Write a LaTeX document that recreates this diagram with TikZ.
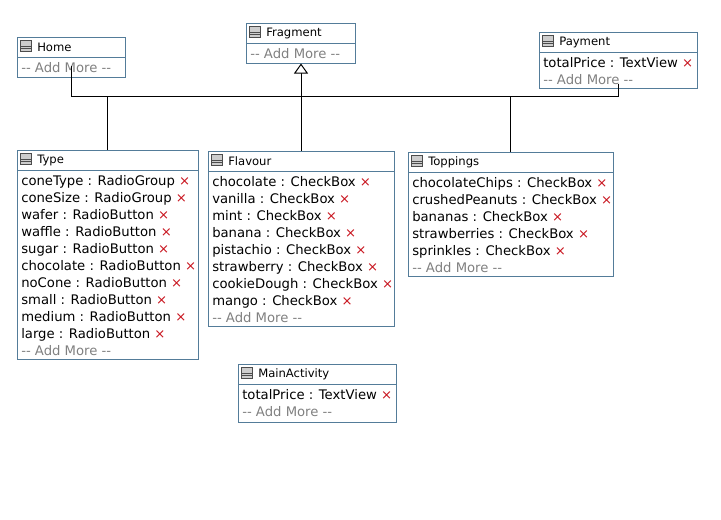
\documentclass[tikz,border=0pt]{standalone}
\usepackage{fontspec}
\setmainfont{DejaVu Sans}
\usepackage{tikz}
\usetikzlibrary{arrows.meta,fit}
\definecolor{classBorder}{RGB}{84,124,153}
\definecolor{addGray}{RGB}{128,128,128}
\definecolor{delRed}{RGB}{200,20,30}
\definecolor{iconGray}{RGB}{205,205,205}
\newcommand{\delmark}{\textcolor{delRed}{×}}
\newcommand{\addmore}{-{}- Add More -{}-}

\begin{document}
\begin{tikzpicture}[x=0.75pt, y=-0.75pt]%
  \tikzset{classbox/.style={draw=classBorder, line width=0.75pt, inner sep=0pt}}
  \tikzset{classline/.style={draw=classBorder, line width=0.75pt}}
  \tikzset{classicon/.style={draw=black!70, fill=iconGray, line width=0.5pt, minimum size=8pt, inner sep=0pt, anchor=north west,
      path picture={\draw[black!70, line width=0.5pt] ([yshift=-4.5pt]path picture bounding box.north west) -- ([yshift=-4.5pt]path picture bounding box.north east)
                                                      ([yshift=-6.3pt]path picture bounding box.north west) -- ([yshift=-6.3pt]path picture bounding box.north east);}}}
  \tikzset{classtitle/.style={anchor=west, inner sep=0pt, font=\fontsize{8.7pt}{10pt}\selectfont}}
  \tikzset{member/.style={anchor=base west, inner sep=0pt, font=\fontsize{9.9pt}{12pt}\selectfont}}
  \tikzset{addmore/.style={member, text=addGray}}
  \tikzset{link/.style={draw, line width=0.75pt}}
  \tikzset{inherit/.style={draw, line width=0.75pt, -{Triangle[open, length=7.5pt, width=10.5pt, fill=white]}}}

  \useasboundingbox (0,0) rectangle (721,519);

  % Home
  \node[classbox, fit={(17,37) (125,77)}] (home) {};
  \draw[classline] (17,57) -- (125,57);
  \node[classicon] at (20,40) {};
  \node[classtitle] (hometitle) at (37,47) {Home};
  \node[addmore] at (21,72.5) {\addmore};

  % Fragment
  \node[classbox, fit={(246,23) (355,63)}] (fragment) {};
  \draw[classline] (246,43) -- (355,43);
  \node[classicon] at (249,26) {};
  \node[classtitle] (fragmenttitle) at (266,33) {Fragment};
  \node[addmore] at (250,58.5) {\addmore};

  % Payment
  \node[classbox, fit={(539,32) (697,88)}] (payment) {};
  \draw[classline] (539,52) -- (697,52);
  \node[classicon] at (542,35) {};
  \node[classtitle] (paymenttitle) at (559,42) {Payment};
  \node[member] at (543,67.5) {totalPrice : TextView \delmark};
  \node[addmore] at (543,84.5) {\addmore};

  % Type
  \node[classbox, fit={(17,150) (198,359)}] (type) {};
  \draw[classline] (17,170) -- (198,170);
  \node[classicon] at (20,153) {};
  \node[classtitle] (typetitle) at (37,160) {Type};
  \foreach \m [count=\i from 0] in {coneType : RadioGroup, coneSize : RadioGroup, wafer : RadioButton,
      waffle : RadioButton, sugar : RadioButton, chocolate : RadioButton, noCone : RadioButton,
      small : RadioButton, medium : RadioButton, large : RadioButton}
    \node[member] at (21,{185.5+17*\i}) {\m\ \delmark};
  \node[addmore] at (21,355.5) {\addmore};

  % Flavour
  \node[classbox, fit={(208,151) (394,326)}] (flavour) {};
  \draw[classline] (208,171) -- (394,171);
  \node[classicon] at (211,154) {};
  \node[classtitle] (flavourtitle) at (228,161) {Flavour};
  \foreach \m [count=\i from 0] in {chocolate : CheckBox, vanilla : CheckBox, mint : CheckBox,
      banana : CheckBox, pistachio : CheckBox, strawberry : CheckBox, cookieDough : CheckBox,
      mango : CheckBox}
    \node[member] at (212,{186.5+17*\i}) {\m\ \delmark};
  \node[addmore] at (212,322.5) {\addmore};

  % Toppings
  \node[classbox, fit={(408,152) (613,276)}] (toppings) {};
  \draw[classline] (408,172) -- (613,172);
  \node[classicon] at (411,155) {};
  \node[classtitle] (toppingstitle) at (428,162) {Toppings};
  \foreach \m [count=\i from 0] in {chocolateChips : CheckBox, crushedPeanuts : CheckBox,
      bananas : CheckBox, strawberries : CheckBox, sprinkles : CheckBox}
    \node[member] at (412,{187.5+17*\i}) {\m\ \delmark};
  \node[addmore] at (412,272.5) {\addmore};

  % MainActivity
  \node[classbox, fit={(238,364) (396,422)}] (mainactivity) {};
  \draw[classline] (238,384) -- (396,384);
  \node[classicon] at (241,367) {};
  \node[classtitle] (mainactivitytitle) at (258,374) {MainActivity};
  \node[member] at (242,399.5) {totalPrice : TextView \delmark};
  \node[addmore] at (242,416.5) {\addmore};

  % connectors
  \coordinate (bus) at (0,96);
  \path[link] ([yshift=9pt]home.south) -- (home.south |- bus) -- (payment.south |- bus) -- ([yshift=3.75pt]payment.south);
  \path[link] (type.north) -- (type.north |- bus);
  \path[link] (toppings.north) -- (toppings.north |- bus);
  \path[inherit] (flavour.north) -- (flavour.north |- fragment.south);
\end{tikzpicture}
\end{document}
